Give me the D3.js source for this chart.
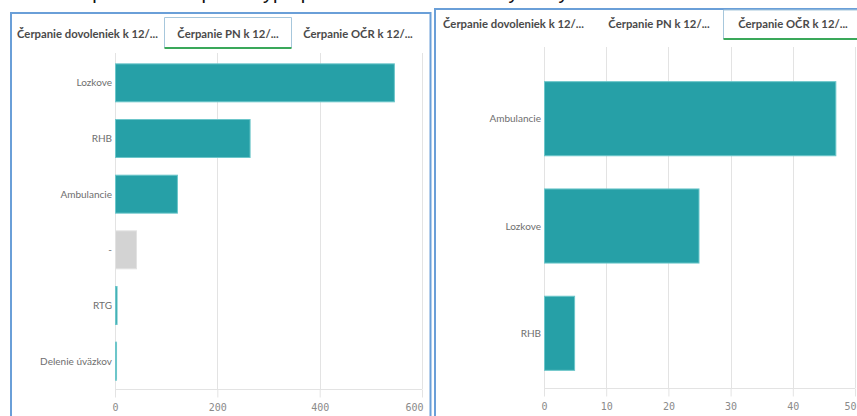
<!DOCTYPE html>
<html>
<head>
<meta charset="utf-8">
<script src="https://cdn.jsdelivr.net/npm/d3@7"></script>
<style>
  html, body { margin: 0; padding: 0; background: #fff; overflow: hidden; }
  svg { display: block; }
  .tab { font-family: Lato, "Open Sans", sans-serif; font-weight: bold; font-size: 11.3px; fill: #4a4a4a; }
  .cat { font-family: Lato, "Open Sans", sans-serif; font-size: 10px; fill: #6e6e6e; }
  .tick text { font-family: "DejaVu Sans Mono", monospace; font-size: 10px; fill: #8a8a8a; }
</style>
</head>
<body>
<script>
// ---- data ----
const tabLabels = ["Čerpanie dovoleniek k 12/...", "Čerpanie PN k 12/...", "Čerpanie OČR k 12/..."];

const leftCategories = ["Lozkove", "RHB", "Ambulancie", "-", "RTG", "Delenie úväzkov"];
const leftValues = [547, 265, 123, 43, 5, 4];
const leftTicks = [0, 200, 400, 600];

const rightCategories = ["Ambulancie", "Lozkove", "RHB"];
const rightValues = [47, 25, 5];
const rightTicks = [0, 10, 20, 30, 40, 50];

const W = 857, H = 416;
const teal = "#26a0a7", tealEdge = "#6cc6ca", grey = "#d3d3d3";
const gridCol = "#e3e3e3";
const panelBlue = "#6a9fd8";

const svg = d3.select("body").append("svg").attr("width", W).attr("height", H);

// heading text above the panels (only its descenders show in the frame)
svg.append("text")
  .attr("x", 60).attr("y", -1)
  .attr("font-family", "Liberation Sans, sans-serif")
  .attr("font-size", 20).attr("fill", "#111")
  .text("Čerpanie voľna podľa typu pracoviska a mesiaca vybraný rok");

// ---- panels ----
svg.append("rect").attr("x", 11).attr("y", 13).attr("width", 419.5).attr("height", 420)
  .attr("fill", "none").attr("stroke", panelBlue).attr("stroke-width", 2);
svg.append("rect").attr("x", 435).attr("y", 9).attr("width", 440).attr("height", 420)
  .attr("fill", "none").attr("stroke", panelBlue).attr("stroke-width", 2);

// ---- tabs ----
function drawTabs(g, cfg) {
  const s = cfg.sel;
  g.append("path")
    .attr("d", `M${s.x0},${s.y1} V${s.y0} H${s.x1} V${s.y1}`)
    .attr("fill", "none").attr("stroke", "#a7c7dc").attr("stroke-width", 1);
  g.append("line").attr("x1", s.x0).attr("x2", s.x1).attr("y1", s.y1).attr("y2", s.y1)
    .attr("stroke", "#3aa85a").attr("stroke-width", 2);
  tabLabels.forEach((t, i) => {
    g.append("text").attr("class", "tab")
      .attr("x", cfg.x[i]).attr("y", cfg.y)
      .attr("text-anchor", cfg.anchor[i])
      .text(t);
  });
}

drawTabs(svg.append("g"), {
  sel: { x0: 164.5, x1: 291.5, y0: 17.5, y1: 48 },
  x: [17, 228, 358], y: 38, anchor: ["start", "middle", "middle"]
});
drawTabs(svg.append("g"), {
  sel: { x0: 723.5, x1: 870, y0: 10, y1: 39 },
  x: [443, 659, 793], y: 28, anchor: ["start", "middle", "middle"]
});

// ---- bar chart helper ----
function barChart(cfg) {
  const g = svg.append("g");
  const x = d3.scaleLinear().domain(cfg.domain).range([cfg.x0, cfg.x1]);
  const y = d3.scaleBand().domain(cfg.cats).range([cfg.bandTop, cfg.axisY])
    .paddingInner(0.3).paddingOuter(cfg.outer);

  // gridlines
  g.append("g").selectAll("line").data(cfg.ticks).join("line")
    .attr("x1", d => Math.round(x(d)) + 0.5).attr("x2", d => Math.round(x(d)) + 0.5)
    .attr("y1", cfg.gridTop).attr("y2", cfg.axisY)
    .attr("stroke", gridCol).attr("stroke-width", 1);

  // x axis
  const ax = g.append("g").attr("transform", `translate(0,${cfg.axisY + 0.5})`)
    .call(d3.axisBottom(x).tickValues(cfg.ticks).tickSize(8).tickPadding(6).tickFormat(d3.format("d")));
  ax.select(".domain").attr("stroke", gridCol).attr("d", `M${x(cfg.domain[0])},0H${x(cfg.domain[1])}`);
  ax.selectAll(".tick line").attr("stroke", gridCol);
  // last label kept inside the panel: right-aligned to its tick
  ax.selectAll(".tick").filter(d => d === cfg.domain[1]).select("text")
    .attr("text-anchor", "end").attr("dx", 1);

  // bars
  g.append("g").selectAll("rect").data(cfg.cats.map((c, i) => ({ c, v: cfg.vals[i] }))).join("rect")
    .attr("x", x(0) + 0.5)
    .attr("y", d => y(d.c) + 0.5)
    .attr("width", d => Math.max(1, x(d.v) - x(0) - 1))
    .attr("height", y.bandwidth() - 1)
    .attr("fill", d => d.c === "-" ? grey : teal)
    .attr("stroke", d => d.c === "-" ? "#e2e2e2" : tealEdge)
    .attr("stroke-width", 1);

  // category labels
  g.append("g").selectAll("text").data(cfg.cats).join("text")
    .attr("class", "cat")
    .attr("x", x(0) - 3)
    .attr("y", d => y(d) + y.bandwidth() / 2)
    .attr("dy", "0.35em")
    .attr("text-anchor", "end")
    .text(d => d);
}

barChart({
  cats: leftCategories, vals: leftValues, ticks: leftTicks,
  domain: [0, 600], x0: 115, x1: 422,
  bandTop: 55, axisY: 389, outer: 0.15, gridTop: 53
});

barChart({
  cats: rightCategories, vals: rightValues, ticks: rightTicks,
  domain: [0, 50], x0: 544, x1: 855,
  bandTop: 64, axisY: 388, outer: 0.16, gridTop: 47
});
</script>
</body>
</html>
